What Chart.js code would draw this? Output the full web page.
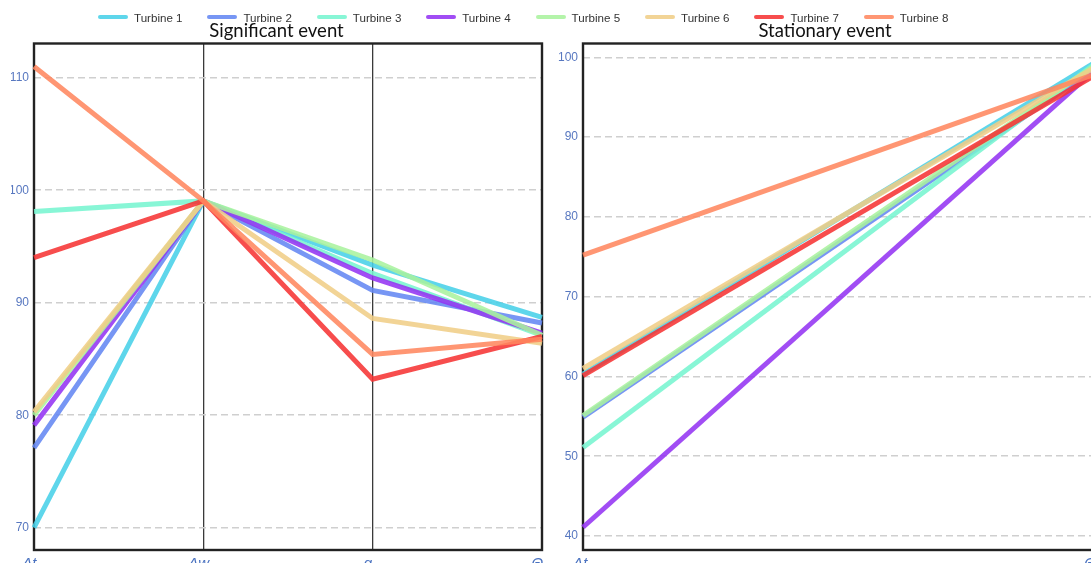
<!DOCTYPE html>
<html>
<head>
<meta charset="utf-8">
<script src="https://cdn.jsdelivr.net/npm/chart.js@4.4.1/dist/chart.umd.min.js"></script>
<style>
  html, body { margin: 0; padding: 0; background: #fff; }
  #fig { position: relative; width: 1091px; height: 563px; overflow: hidden; background: #fff; }
  #sigCanvas { position: absolute; left: 0; top: 0; }
  #statCanvas { position: absolute; left: 545px; top: 0; }
  #legend { position: absolute; left: 0; top: 0; width: 1091px; height: 30px;
            font-family: "Liberation Sans", Arial, sans-serif; font-size: 11.6px; color: #333; }
  .item { position: absolute; top: 11px; height: 12px; display: flex; align-items: center; white-space: nowrap; }
  .swatch { width: 30px; height: 4.5px; border-radius: 2.5px; margin-right: 6px; }
</style>
</head>
<body>
<div id="fig">
  <canvas id="sigCanvas" width="553" height="563"></canvas>
  <canvas id="statCanvas" width="560" height="563"></canvas>
  <div id="legend"></div>
</div>
<script>
// Turbine names and line colours
const turbines = ['Turbine 1', 'Turbine 2', 'Turbine 3', 'Turbine 4',
                  'Turbine 5', 'Turbine 6', 'Turbine 7', 'Turbine 8'];
const turbineColors = ['rgba(72,208,232,0.88)', 'rgba(100,136,242,0.88)', 'rgba(120,245,208,0.88)',
                       'rgba(148,52,242,0.88)', 'rgba(170,242,158,0.88)', 'rgba(240,206,136,0.88)',
                       'rgba(246,52,52,0.88)', 'rgba(255,136,96,0.88)'];

// Significant event: parallel axes and per-turbine values
const sigAxes = ['Δtₘ', 'Δwₘ', 'gₘ', 'Θₘ'];
const sigTicks = [70, 80, 90, 100, 110];
const sigT1 = [70.0, 99.05, 93.35, 88.7];
const sigT2 = [77.1, 99.05, 91.1, 88.2];
const sigT3 = [98.1, 99.05, 92.6, 87.1];
const sigT4 = [79.1, 99.05, 92.2, 87.3];
const sigT5 = [80.0, 99.05, 93.8, 87.1];
const sigT6 = [80.3, 99.05, 88.6, 86.4];
const sigT7 = [94.0, 99.05, 83.2, 87.0];
const sigT8 = [111.0, 99.05, 85.4, 86.75];

// Stationary event
const statAxes = ['Δtₛ', 'Θₛ'];
const statTicks = [40, 50, 60, 70, 80, 90, 100];
const statT1 = [60.3, 99.2];
const statT2 = [54.9, 98.4];
const statT3 = [51.1, 99.0];
const statT4 = [41.1, 98.2];
const statT5 = [55.1, 98.8];
const statT6 = [61.0, 98.6];
const statT7 = [60.1, 97.6];
const statT8 = [75.2, 97.8];

const sigSeries = [sigT1, sigT2, sigT3, sigT4, sigT5, sigT6, sigT7, sigT8];
const statSeries = [statT1, statT2, statT3, statT4, statT5, statT6, statT7, statT8];

// Legend shared by both panels
const legendEl = document.getElementById('legend');
turbines.forEach((name, i) => {
  const item = document.createElement('div');
  item.className = 'item';
  item.style.left = (98 + i * 109.4) + 'px';
  const sw = document.createElement('span');
  sw.className = 'swatch';
  sw.style.background = turbineColors[i];
  const label = document.createElement('span');
  label.textContent = name;
  item.appendChild(sw);
  item.appendChild(label);
  legendEl.appendChild(item);
});

// Dark frame around each plot area
const framePlugin = {
  id: 'frame',
  beforeDatasetsDraw(chart) {
    const a = chart.chartArea;
    const ctx = chart.ctx;
    ctx.save();
    ctx.strokeStyle = '#222';
    ctx.lineWidth = 2.4;
    ctx.strokeRect(a.left, a.top, a.right - a.left, a.bottom - a.top);
    ctx.restore();
  }
};

function makePanel(canvasId, title, axes, series, ticks, yMin, yMax, padLeft, padRight, yWidth) {
  const datasets = series.map((vals, i) => ({
    label: turbines[i],
    data: vals,
    borderColor: turbineColors[i],
    backgroundColor: turbineColors[i],
    borderWidth: 5,
    pointRadius: 0,
    pointHoverRadius: 0,
    tension: 0,
    fill: false,
    order: series.length - i
  }));
  return new Chart(document.getElementById(canvasId), {
    type: 'line',
    data: { labels: axes, datasets },
    plugins: [framePlugin],
    options: {
      responsive: false,
      animation: false,
      devicePixelRatio: 1,
      layout: { padding: { left: padLeft, right: padRight, top: 19.8, bottom: 0 } },
      plugins: {
        legend: { display: false },
        tooltip: { enabled: false },
        title: {
          display: true,
          text: title,
          color: '#111',
          font: { family: 'Lato, "Open Sans", sans-serif', size: 18.5, weight: 'normal' },
          padding: { top: 0, bottom: 1.5 }
        }
      },
      scales: {
        x: {
          type: 'category',
          offset: false,
          grid: { color: '#3a3a3a', lineWidth: 1.3, drawTicks: false },
          border: { display: false },
          ticks: {
            color: '#4a72c0',
            padding: 5,
            maxRotation: 0,
            autoSkip: false,
            font: { family: '"Liberation Sans", "DejaVu Sans", sans-serif', size: 15, style: 'italic' }
          },
          afterFit(scale) {
            scale.height = 13;
            scale.paddingLeft = 0;
            scale.paddingRight = 0;
          }
        },
        y: {
          type: 'linear',
          min: yMin,
          max: yMax,
          afterBuildTicks(scale) { scale.ticks = ticks.map(v => ({ value: v })); },
          grid: { color: '#cfcfcf', lineWidth: 1.5, drawTicks: false, borderDash: [7, 4] },
          border: { display: false, dash: [7, 4] },
          ticks: {
            color: '#5878c0',
            padding: 5,
            font: { family: '"Liberation Sans", Arial, sans-serif', size: 12 }
          },
          afterFit(scale) { scale.width = yWidth; }
        }
      }
    }
  });
}

// Dashed grid lines on the value axes
Chart.defaults.scale.grid.borderDash = [7, 4];

const sigChart = makePanel('sigCanvas', 'Significant event', sigAxes, sigSeries, sigTicks,
                           68.02, 113.04, 11, 11, 23);
const statChart = makePanel('statCanvas', 'Stationary event', statAxes, statSeries, statTicks,
                            38.25, 101.73, 12, 12, 26);
</script>
</body>
</html>
